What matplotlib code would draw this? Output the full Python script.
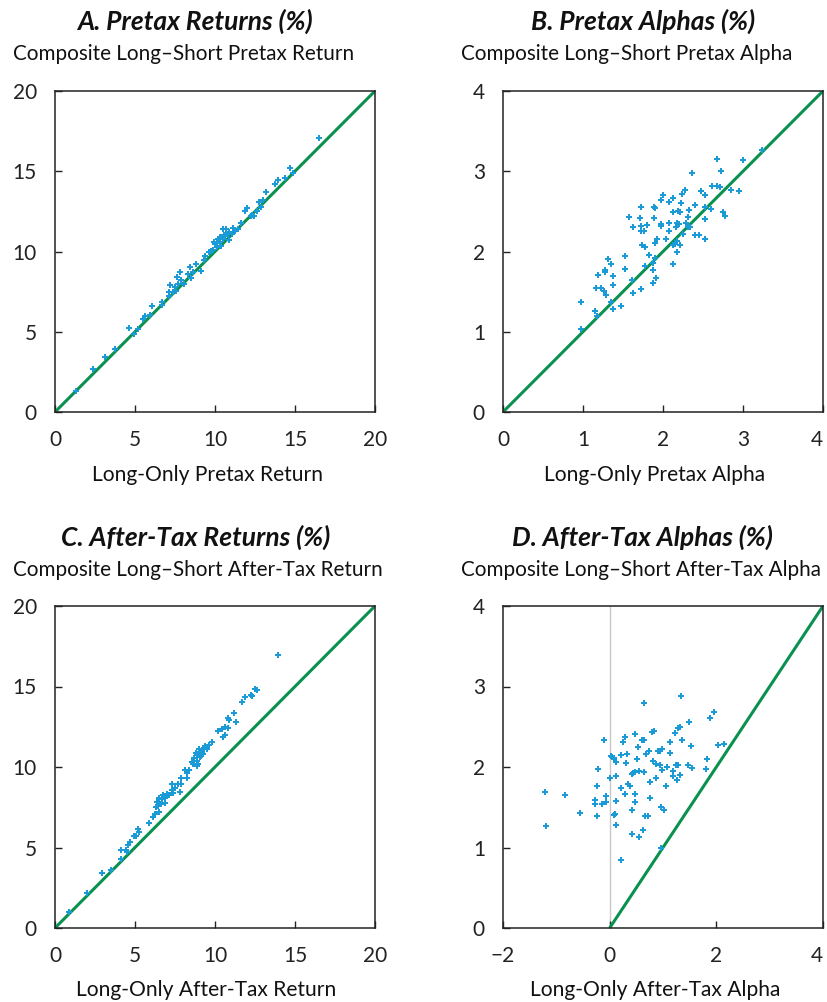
import matplotlib
matplotlib.use("Agg")
import matplotlib.pyplot as plt
import numpy as np

plt.rcParams['font.family'] = ['Lato', 'DejaVu Sans']

# ---------------- data ----------------
a_x = [16.5, 14.7, 14.9, 14.4, 13.96, 13.75, 13.2, 13.0, 12.75, 12.85, 12.0, 11.9, 12.6, 12.3, 12.25, 12.45,
       11.6, 11.45, 11.1, 10.5, 10.7, 10.8, 10.65, 9.96, 10.1, 10.3, 10.4, 10.9, 11.05, 11.25, 9.75, 9.6,
       9.4, 9.3, 9.1, 8.8, 8.45, 8.6, 8.3, 8.5, 7.8, 7.65, 7.9, 8.05, 7.7, 7.5, 7.2, 7.1, 7.35, 7.1, 7.55,
       6.7, 6.7, 6.05, 5.95, 5.6, 5.5, 5.2, 4.95, 4.6, 3.75, 3.1, 2.35, 1.3,
       10.0, 10.2, 10.5, 10.6, 10.3, 10.15, 10.85, 10.55, 9.9]
a_y = [17.1, 15.2, 14.9, 14.6, 14.45, 14.2, 13.7, 13.2, 13.1, 12.8, 12.7, 12.55, 12.5, 12.3, 12.2, 12.2,
       11.8, 11.4, 11.45, 11.4, 11.4, 11.1, 10.95, 10.6, 10.55, 10.9, 10.35, 10.7, 11.1, 11.3, 10.05, 9.97,
       9.7, 9.5, 8.8, 9.2, 9.05, 8.75, 8.6, 8.35, 8.7, 8.4, 8.25, 7.95, 8.0, 7.8, 7.9, 7.45, 7.45, 7.25, 7.55,
       6.85, 6.65, 6.6, 6.05, 6.0, 5.8, 5.2, 4.85, 5.25, 3.95, 3.4, 2.7, 1.3,
       10.45, 10.75, 10.8, 11.0, 10.6, 10.3, 11.2, 11.05, 10.1]

b_x = [3.24, 3.0, 2.67, 2.72, 2.36, 2.61, 2.68, 2.71, 2.85, 2.95, 2.48, 2.52, 2.28, 2.24, 2.12, 2.0, 1.97,
       2.08, 2.23, 2.4, 2.52, 2.6, 2.33, 2.19, 2.21, 2.12, 1.89, 1.9, 1.72, 1.58, 1.71, 1.89, 2.75, 2.77,
       2.52, 2.31, 2.08, 1.97, 1.98, 1.73, 1.8, 1.63, 1.73, 1.76, 2.17, 2.2, 2.16, 2.29, 2.31, 2.34, 2.08,
       2.25, 2.4, 2.45, 2.52, 2.04, 1.92, 1.9, 2.17, 2.15, 2.125, 2.21, 1.74, 1.77, 2.18, 1.82, 1.9, 1.87,
       2.13, 1.77, 1.875, 1.91, 1.88, 1.53, 1.52, 1.31, 1.35, 1.53, 1.28, 1.275, 1.19, 1.375, 1.61, 1.23,
       1.16, 1.37, 1.26, 1.29, 1.72, 1.63, 1.35, 1.48, 1.38, 0.97, 1.15, 1.17, 0.97]
b_y = [3.26, 3.14, 3.15, 3.0, 2.98, 2.81, 2.81, 2.8, 2.77, 2.75, 2.75, 2.7, 2.77, 2.72, 2.67, 2.7, 2.64,
       2.62, 2.61, 2.58, 2.55, 2.53, 2.52, 2.5, 2.49, 2.49, 2.56, 2.54, 2.55, 2.43, 2.42, 2.42, 2.49, 2.44,
       2.41, 2.43, 2.36, 2.34, 2.32, 2.32, 2.33, 2.31, 2.25, 2.26, 2.35, 2.34, 2.31, 2.36, 2.31, 2.3, 2.25,
       2.22, 2.21, 2.21, 2.16, 2.15, 2.16, 2.1, 2.13, 2.09, 2.085, 2.08, 2.085, 2.06, 1.99, 1.96, 1.92, 1.86,
       1.84, 1.82, 1.77, 1.67, 1.61, 1.94, 1.94, 1.91, 1.85, 1.78, 1.77, 1.74, 1.71, 1.70, 1.645, 1.55,
       1.545, 1.58, 1.51, 1.46, 1.53, 1.48, 1.375, 1.325, 1.28, 1.37, 1.26, 1.2, 1.03]

c_x = [13.96, 12.6, 12.5, 12.3, 12.25, 11.9, 11.67, 11.19, 10.9, 10.8, 11.3, 10.6, 10.8, 10.2, 10.46, 10.5,
       10.6, 9.8, 9.6, 9.5, 9.33, 9.0, 9.17, 8.9, 9.27, 8.7, 8.85, 8.54, 8.96, 8.9, 9.06, 8.1, 8.4, 8.23,
       8.25, 7.9, 7.7, 7.9, 7.3, 7.3, 7.4, 7.1, 7.0, 6.77, 6.5, 6.7, 6.9, 6.6, 6.46, 6.3, 6.52, 6.25, 6.1,
       5.9, 7.83, 5.2, 5.25, 4.96, 5.04, 4.69, 4.58, 4.44, 4.1, 4.5, 4.1, 3.5, 2.92, 2.02, 0.9,
       9.2, 9.4, 8.8, 9.1, 8.6, 7.5, 6.9, 6.4]
c_y = [16.94, 14.8, 14.86, 14.38, 14.5, 14.34, 14.03, 13.34, 12.92, 13.03, 12.82, 12.5, 12.45, 12.26, 12.36,
       11.88, 11.99, 11.57, 11.36, 11.1, 11.2, 11.1, 10.84, 10.78, 10.78, 10.53, 10.36, 10.32, 10.16, 10.07,
       10.63, 9.8, 9.8, 9.6, 9.32, 9.32, 8.97, 8.97, 8.95, 8.55, 8.4, 8.24, 8.35, 8.28, 8.1, 7.99, 7.78,
       7.72, 7.58, 7.5, 7.2, 7.1, 6.9, 6.51, 8.45, 6.16, 5.99, 5.7, 5.74, 5.37, 5.16, 4.87, 4.87, 4.7, 4.29,
       3.62, 3.41, 2.19, 1.0,
       11.0, 11.3, 10.9, 10.7, 10.2, 8.7, 8.1, 7.8]

d_x = [1.34, 0.64, 1.96, 1.88, 1.49, 1.31, 1.29, 0.83, 0.79, 1.23, 0.47, 0.28, 0.61, 0.64, -0.1, 0.25, 1.35,
       1.13, 2.14, 2.03, 1.53, 0.54, 0.99, 0.94, 0.91, 0.73, 1.13, 0.68, 0.325, 0.22, 0.02, 0.04, 0.08, 0.52,
       0.11, 0.3, 0.81, 0.86, 0.94, 1.83, 1.29, 1.25, 1.46, 1.55, 1.81, 1.08, 0.99, 1.18, -0.21, 0.55, 0.64,
       0.47, 0.44, 0.41, 1.19, 1.32, 0.11, 0.0, 0.875, 1.26, 0.75, 0.35, 0.375, -0.24, 1.05, 0.22, -1.21,
       -0.84, 0.29, 0.48, -0.06, 0.76, -0.27, 0.11, 0.48, -0.27, -0.075, -0.14, 0.96, 1.01, 0.42, -0.55,
       -0.24, 0.075, 0.1, 0.66, 0.71, 0.125, -1.2, 0.625, 0.425, 0.55, 0.97, 0.22]
d_y = [2.88, 2.79, 2.68, 2.61, 2.56, 2.50, 2.49, 2.45, 2.43, 2.42, 2.41, 2.37, 2.34, 2.33, 2.33, 2.31, 2.33,
       2.31, 2.29, 2.27, 2.26, 2.25, 2.22, 2.20, 2.20, 2.20, 2.18, 2.16, 2.16, 2.15, 2.14, 2.13, 2.11, 2.10,
       2.065, 2.05, 2.08, 2.04, 2.03, 2.10, 2.03, 2.02, 2.03, 1.99, 1.98, 2.0, 1.96, 1.95, 1.97, 1.95, 1.94,
       1.94, 1.92, 1.91, 1.885, 1.90, 1.885, 1.865, 1.865, 1.835, 1.815, 1.79, 1.77, 1.76, 1.76, 1.74, 1.69,
       1.65, 1.66, 1.66, 1.64, 1.62, 1.59, 1.58, 1.57, 1.54, 1.565, 1.54, 1.50, 1.46, 1.47, 1.43, 1.39,
       1.40, 1.41, 1.39, 1.39, 1.28, 1.27, 1.215, 1.17, 1.13, 1.0, 0.84]

titles = ["A. Pretax Returns (%)", "B. Pretax Alphas (%)",
          "C. After-Tax Returns (%)", "D. After-Tax Alphas (%)"]
ylabels = ["Composite Long\u2013Short Pretax Return", "Composite Long\u2013Short Pretax Alpha",
           "Composite Long\u2013Short After-Tax Return", "Composite Long\u2013Short After-Tax Alpha"]
xlabels = ["Long-Only Pretax Return", "Long-Only Pretax Alpha",
           "Long-Only After-Tax Return", "Long-Only After-Tax Alpha"]
ret_ticks = [0, 5, 10, 15, 20]
alpha_ticks = [0, 1, 2, 3, 4]
d_xticks = [-2, 0, 2, 4]

# ---------------- style ----------------
W, H = 827, 1002
fig = plt.figure(figsize=(W / 100, H / 100), dpi=100)
dot = '#1a9ad6'
green = '#0a9150'

boxes = {
    0: (55, 91, 375, 412),
    1: (503, 91, 823, 412),
    2: (55, 606, 375, 928),
    3: (503, 606, 823, 928),
}
title_cx = [195, 643, 196, 642]
sub_lx = [13, 461, 13, 461]
xl_cx = [207, 655, 206, 655]
title_y = [21, 21, 537, 537]
sub_y = [54, 54, 570, 570]
xl_y = [475, 475, 990, 990]

data = [(a_x, a_y), (b_x, b_y), (c_x, c_y), (d_x, d_y)]
lims = [((0, 20), (0, 20)), ((0, 4), (0, 4)), ((0, 20), (0, 20)), ((-2, 4), (0, 4))]
xticks = [ret_ticks, alpha_ticks, ret_ticks, d_xticks]
yticks = [ret_ticks, alpha_ticks, ret_ticks, alpha_ticks]
lines = [((0, 20), (0, 20)), ((0, 4), (0, 4)), ((0, 20), (0, 20)), ((0, 4), (0, 4))]

for i in range(4):
    l, t, r, b = boxes[i]
    ax = fig.add_axes([l / W, 1 - b / H, (r - l) / W, (b - t) / H])
    (x0, x1), (y0, y1) = lims[i]
    ax.set_xlim(x0, x1)
    ax.set_ylim(y0, y1)
    if i == 3:
        ax.axvline(0, color='#c8c8c8', lw=1.0, zorder=1)
    ax.plot(lines[i][0], lines[i][1], color=green, lw=2.2, zorder=2, solid_capstyle='butt')
    ax.plot(data[i][0], data[i][1], linestyle='none', marker='P', ms=5.0,
            color=dot, mec=dot, mew=0, zorder=3)
    ax.set_xticks(xticks[i])
    ax.set_yticks(yticks[i])
    labs = ax.set_xticklabels(['\u2212' + str(abs(v)) if v < 0 else str(v) for v in xticks[i]])
    ax.tick_params(direction='in', length=5, width=1.0, labelsize=15, pad=13,
                   colors='#222222', top=False, right=False)
    if i in (1, 3):
        labs[-1].set_horizontalalignment('right')
    for s in ax.spines.values():
        s.set_color('#222222')
        s.set_linewidth(1.1)
    fig.text(title_cx[i] / W, 1 - title_y[i] / H, titles[i], ha='center', va='center',
             fontsize=19, fontweight='bold', fontstyle='italic', color='#111111')
    fig.text(sub_lx[i] / W, 1 - sub_y[i] / H, ylabels[i], ha='left', va='center',
             fontsize=14.9, color='#111111')
    fig.text(xl_cx[i] / W, 1 - xl_y[i] / H, xlabels[i], ha='center', va='center',
             fontsize=15.1, color='#111111')

fig.savefig('out.png', dpi=100)
